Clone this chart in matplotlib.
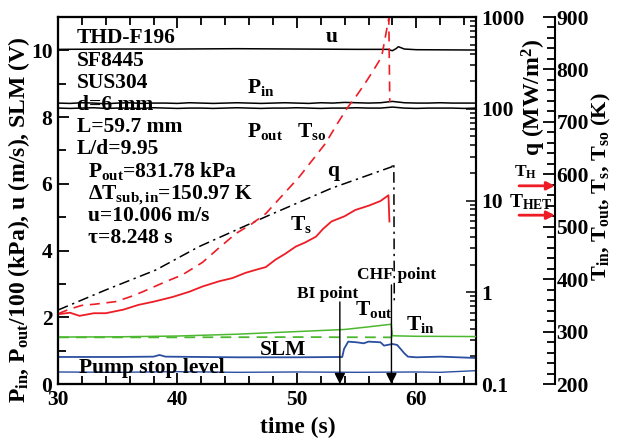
import numpy as np
import matplotlib
matplotlib.use('Agg')
import matplotlib.pyplot as plt
from matplotlib.ticker import MultipleLocator, FixedLocator, FixedFormatter, LogLocator, NullFormatter
import matplotlib.transforms as mtransforms

plt.rcParams['font.family'] = ['Liberation Serif', 'DejaVu Serif']
plt.rcParams['font.weight'] = 'bold'
plt.rcParams['mathtext.fontset'] = 'custom'
plt.rcParams['mathtext.rm'] = 'Liberation Serif:bold'
plt.rcParams['mathtext.it'] = 'Liberation Serif:bold'
plt.rcParams['mathtext.bf'] = 'Liberation Serif:bold'
plt.rcParams['mathtext.default'] = 'regular'

RED = '#ee1c25'
GREEN = '#4cb830'
BLUE = '#2b4ea0'

# --- data ---
# velocity u (m/s), left axis
t_u = [30, 35, 40, 45, 50, 55, 57.6, 58.0, 58.3, 58.5, 59.0, 60, 65]
u_vals = [10.03, 10.04, 10.04, 10.05, 10.04, 10.03, 10.03, 9.99, 10.05, 10.11, 10.04, 10.02, 10.01]

# pressures /100 kPa, left axis (one value per second, 30..65)
t_p = np.arange(30, 66, 1.0)
p_in = [8.42, 8.41, 8.43, 8.42, 8.40, 8.42, 8.43, 8.41, 8.42, 8.42, 8.41, 8.43,
        8.42, 8.41, 8.42, 8.43, 8.42, 8.41, 8.42, 8.43, 8.42, 8.41, 8.43, 8.42,
        8.44, 8.43, 8.42, 8.43, 8.47, 8.43, 8.42, 8.42, 8.43, 8.42, 8.42, 8.42]
p_out = [8.27, 8.26, 8.27, 8.28, 8.26, 8.27, 8.27, 8.26, 8.28, 8.27, 8.26, 8.27,
         8.27, 8.26, 8.27, 8.28, 8.27, 8.26, 8.27, 8.27, 8.28, 8.27, 8.26, 8.27,
         8.27, 8.28, 8.27, 8.27, 8.30, 8.27, 8.26, 8.27, 8.27, 8.27, 8.26, 8.27]

# SLM signal (V) and pump stop level, left axis
t_slm = [30, 35, 38, 38.5, 39, 45, 50, 53.8, 53.95, 54.3, 55.0, 55.6, 56.0, 56.5,
         57.0, 57.3, 58.0, 58.4, 59.0, 59.3, 60, 62, 65]
slm = [0.81, 0.81, 0.82, 0.87, 0.82, 0.80, 0.80, 0.81, 1.05, 1.27, 1.25, 1.22, 1.27,
       1.26, 1.25, 1.15, 1.20, 1.17, 0.92, 0.82, 0.80, 0.82, 0.78]
t_pump = [30, 35, 40, 45, 50, 55, 60, 62, 65]
pump = [0.36, 0.35, 0.37, 0.35, 0.36, 0.35, 0.36, 0.35, 0.40]

# heat flux q (MW/m2), log axis
t_q = [30, 34, 38.2, 41.8, 47.4, 52.9, 57.95, 58.12, 58.16]
q_vals = [0.64, 1.06, 1.75, 3.14, 6.66, 13.6, 23.3, 25.5, 0.73]

# temperatures (K), right axis
t_ts = [30, 31, 31.8, 33, 34, 35.5, 36.75, 38, 39.6, 41, 42.1, 43.5, 44.6, 45.7,
        46.6, 47.4, 48.2, 49.0, 49.9, 50.7, 51.6, 52.2, 52.9, 54.0, 54.9, 56.0,
        57.0, 57.67, 57.75]
ts = [333, 336, 330, 335, 335, 342, 351, 357, 366, 376, 386, 396, 402, 412,
      418, 423, 437, 448, 462, 470, 481, 496, 510, 520, 532, 540, 549, 560, 510]
t_tso = [30, 31, 32, 33, 34.8, 36, 37.1, 39.0, 40.4, 42.1, 43.5, 44.9, 46.2, 47.4,
         48.8, 50.2, 51.3, 52.4, 53.4, 54.3, 55.0, 55.7, 56.4, 57.1, 57.7, 57.78]
tso = [334, 343, 350, 352, 357, 366, 376, 395, 408, 432, 460, 487, 505, 525,
       560, 595, 627, 659, 697, 729, 750, 773, 798, 824, 898, 738]
t_tout = [30, 35, 40, 45, 50, 54, 56, 57.9, 58.0, 60, 65]
tout = [289.5, 290, 291.5, 295, 300, 304, 309, 314, 292, 291, 290.5]
t_tin = [30, 40, 50, 58]
tin = [289, 289, 289.5, 289]

# heater temperatures marked by arrows (K)
T_H = 578
T_HET = 522
# BI / CHF instants (s)
t_bi = 53.6
t_chf = 57.92

fig = plt.figure(figsize=(6.17, 4.43), dpi=100)
ax = fig.add_axes([58 / 617, 59 / 443, 418 / 617, 367 / 443])
ax2 = ax.twinx()
ax3 = ax.twinx()
ax3.spines['right'].set_position(('axes', 1.189))

FS = 15.5
lw_sp = 1.5
for a in (ax, ax2, ax3):
    for s in a.spines.values():
        s.set_linewidth(lw_sp)

# left axis curves
ax.plot(t_u, u_vals, color='black', lw=1.1)
ax.plot(t_p, p_in, color='black', lw=1.1)
ax.plot(t_p, p_out, color='black', lw=1.1)
ax.plot(t_slm, slm, color=BLUE, lw=1.3)
ax.plot(t_pump, pump, color=BLUE, lw=1.0)

# q on log axis
ax2.plot(t_q, q_vals, color='black', lw=1.1, dashes=[7, 3, 1.5, 3])

# temperatures
ax3.plot(t_tso, tso, color=RED, lw=1.2, dashes=[6, 4])
ax3.plot(t_ts, ts, color=RED, lw=1.3)
ax3.plot(t_tin, tin, color=GREEN, lw=1.3, dashes=[6, 4])
ax3.plot(t_tout, tout, color=GREEN, lw=1.1)

# axis ranges and ticks
ax.set_xlim(30, 65)
ax.set_ylim(0, 11)
ax.xaxis.set_major_locator(MultipleLocator(10))
ax.xaxis.set_minor_locator(MultipleLocator(2))
ax.yaxis.set_major_locator(MultipleLocator(2))
ax.yaxis.set_minor_locator(MultipleLocator(1))
ax.tick_params(which='both', direction='in', top=True, right=False, width=1.3, labelsize=FS, pad=4)
ax.tick_params(which='major', length=8)
ax.tick_params(which='minor', length=6)

ax2.set_yscale('log')
ax2.set_ylim(0.1, 1000)
ax2.yaxis.set_major_locator(FixedLocator([0.1, 1, 10, 100, 1000]))
ax2.yaxis.set_major_formatter(FixedFormatter(['0.1', '1', '10', '100', '1000']))
ax2.yaxis.set_minor_locator(LogLocator(base=10, subs=np.arange(2, 10)))
ax2.yaxis.set_minor_formatter(NullFormatter())
ax2.tick_params(which='both', direction='in', width=1.1, labelsize=FS, pad=4)
ax2.tick_params(which='major', length=7)
ax2.tick_params(which='minor', length=4)

ax3.set_ylim(200, 900)
ax3.yaxis.set_major_locator(MultipleLocator(100))
ax3.yaxis.set_minor_locator(MultipleLocator(20))
ax3.tick_params(which='both', direction='in', width=1.3, labelsize=FS, pad=1)
ax3.tick_params(which='major', length=9)
ax3.tick_params(which='minor', length=6)

ax.set_xlabel('time (s)', fontsize=17, fontweight='bold')
ax.xaxis.set_label_coords(0.574, -0.09)
ax.set_ylabel(r'P$_{in}$, P$_{out}$/100 (kPa), u (m/s), SLM (V)', fontsize=17, fontweight='bold')
ax.yaxis.set_label_coords(-0.062, 0.447)
ax2.set_ylabel(r'q (MW/m$^{2}$)', fontsize=17, fontweight='bold')
ax2.yaxis.set_label_coords(1.105, 0.78)
ax3.set_ylabel(r'T$_{in}$, T$_{out}$, T$_{s}$, T$_{so}$ (K)', fontsize=16, fontweight='bold')
ax3.yaxis.set_label_coords(1.272, 0.538)

# info block
info = ['THD-F196', 'SF8445', 'SUS304', 'd=6 mm', 'L=59.7 mm', 'L/d=9.95']
info_y = [0.928, 0.8665, 0.8065, 0.7466, 0.6866, 0.6267]
for s, yy in zip(info, info_y):
    ax.text(0.0455, yy, s, transform=ax.transAxes, fontsize=FS, va='baseline', zorder=5)
info2 = [r'P$_{out}$=831.78 kPa', r'ΔT$_{sub,in}$=150.97 K', 'u=10.006 m/s', 'τ=8.248 s']
info2_y = [0.564, 0.504, 0.444, 0.384]
for s, yy in zip(info2, info2_y):
    ax.text(0.0718, yy, s, transform=ax.transAxes, fontsize=FS, va='baseline', zorder=5)

# curve labels (left axis data coords)
labels = [('u', 52.4, 10.26, FS), (r'P$_{in}$', 45.8, 8.71, FS), (r'P$_{out}$', 45.8, 7.41, FS),
          (r'T$_{so}$', 50.0, 7.41, FS), ('q', 52.5, 6.23, FS), (r'T$_{s}$', 49.4, 4.62, FS),
          ('BI point', 50.0, 2.58, 12.5), ('CHF point', 55.0, 3.14, 12.5),
          (r'T$_{out}$', 54.9, 2.07, FS), (r'T$_{in}$', 59.1, 1.62, FS),
          ('SLM', 46.9, 0.87, FS), ('Pump stop level', 31.8, 0.32, FS)]
for s, xx, yy, fs in labels:
    ax3.text(xx, yy, s, transform=ax.transData, fontsize=fs, va='baseline', zorder=6)

# BI and CHF arrows
for tt, ytop in [(t_bi, 2.46), (t_chf, 2.97)]:
    ax3.annotate('', xy=(tt, 0.0), xytext=(tt, ytop), xycoords=ax.transData, textcoords=ax.transData,
                 arrowprops=dict(arrowstyle='-|>', color='black', lw=1.0, mutation_scale=16,
                                 shrinkA=0, shrinkB=0), annotation_clip=False)

# heater temperature arrows on the T axis
bt = mtransforms.blended_transform_factory(ax3.transAxes, ax3.transData)
for tv in (T_H, T_HET):
    ax3.annotate('', xy=(1.189, tv), xytext=(1.103, tv), xycoords=bt, textcoords=bt,
                 arrowprops=dict(arrowstyle='-|>', color=RED, lw=2.0, mutation_scale=12,
                                 shrinkA=0, shrinkB=0), annotation_clip=False)
ax3.text(1.092, 596, r'T$_{H}$', transform=bt, fontsize=12.5, va='baseline')
ax3.text(1.079, 537, r'T$_{HET}$', transform=bt, fontsize=14, va='baseline')

fig.savefig('out.png', dpi=100)
